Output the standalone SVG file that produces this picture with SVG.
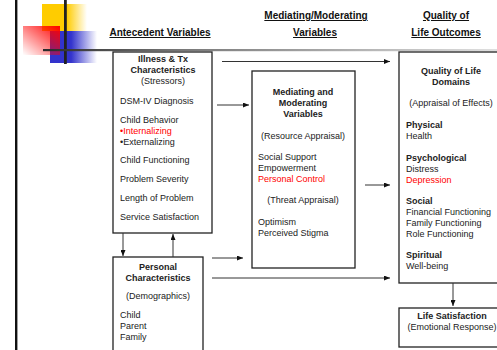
<svg xmlns="http://www.w3.org/2000/svg" width="497" height="350" viewBox="0 0 497 350">
<defs>
<linearGradient id="gy" x1="0" y1="0" x2="1" y2="0"><stop offset="0" stop-color="#FFCC00"/><stop offset="0.55" stop-color="#FFCC00"/><stop offset="1" stop-color="#FFCC00" stop-opacity="0"/></linearGradient>
<linearGradient id="gb" x1="0" y1="0" x2="1" y2="0"><stop offset="0" stop-color="#3333CC"/><stop offset="0.45" stop-color="#3333CC"/><stop offset="1" stop-color="#3333CC" stop-opacity="0"/></linearGradient>
<linearGradient id="gr" x1="1" y1="0" x2="0" y2="1"><stop offset="0" stop-color="#FF0000"/><stop offset="1" stop-color="#FF0000" stop-opacity="0"/></linearGradient>
<linearGradient id="gl" x1="0" y1="0" x2="1" y2="0"><stop offset="0" stop-color="#2a2a2a"/><stop offset="0.3" stop-color="#777"/><stop offset="1" stop-color="#e0e0e0"/></linearGradient>
<marker id="ah" markerUnits="userSpaceOnUse" markerWidth="6" markerHeight="5" refX="6" refY="2.5" orient="auto"><path d="M0,0 L6,2.5 L0,5 Z" fill="#111"/></marker>
</defs>
<style>
text{font-family:"Liberation Sans",Arial,sans-serif;font-size:9px;fill:#222}
.h{font-size:10px;font-weight:bold;fill:#111;text-decoration:underline;text-anchor:middle}
.b{font-weight:bold}
.c{text-anchor:middle}
.r{fill:#FF0000}
.box{fill:#fff;stroke:#222;stroke-width:1.3}
.cn line{stroke:#333;stroke-width:1;marker-end:url(#ah)}
</style>
<rect width="497" height="350" fill="#fff"/>
<g id="decoration">
<rect x="15" y="0" width="2.4" height="350" fill="#111"/>
<rect x="42" y="4" width="45" height="27" fill="url(#gy)"/>
<rect x="50" y="31" width="47" height="32" fill="url(#gb)"/>
<rect x="23" y="26" width="37" height="29" fill="url(#gr)"/>
<rect x="64" y="0" width="2.8" height="64" fill="#222"/>
<rect x="43" y="49" width="454" height="2.2" fill="url(#gl)"/>
</g>
<g id="headers">
<text class="h" x="160" y="36">Antecedent Variables</text>
<text class="h" x="316" y="19">Mediating/Moderating</text>
<text class="h" x="315" y="36">Variables</text>
<text class="h" x="446" y="19">Quality of</text>
<text class="h" x="446" y="36">Life Outcomes</text>
</g>
<g id="illness">
<rect class="box" x="113" y="52" width="99" height="181"/>
<text class="b c" x="163" y="62">Illness &amp; Tx</text>
<text class="b c" x="163" y="73">Characteristics</text>
<text class="c" x="163" y="84">(Stressors)</text>
<text x="120" y="104">DSM-IV Diagnosis</text>
<text x="120" y="123">Child Behavior</text>
<text class="r" x="120" y="134">•Internalizing</text>
<text x="120" y="145">•Externalizing</text>
<text x="120" y="163">Child Functioning</text>
<text x="120" y="182">Problem Severity</text>
<text x="120" y="201">Length of Problem</text>
<text x="120" y="220">Service Satisfaction</text>
</g>
<g id="personal">
<rect class="box" x="113" y="257" width="90" height="100"/>
<text class="b c" x="158" y="270">Personal</text>
<text class="b c" x="158" y="281">Characteristics</text>
<text class="c" x="158" y="299">(Demographics)</text>
<text x="120" y="318">Child</text>
<text x="120" y="329">Parent</text>
<text x="120" y="340">Family</text>
</g>
<g id="mediating">
<rect class="box" x="252" y="71" width="103" height="197"/>
<text class="b c" x="303" y="95">Mediating and</text>
<text class="b c" x="303" y="106">Moderating</text>
<text class="b c" x="303" y="117">Variables</text>
<text class="c" x="303" y="139">(Resource Appraisal)</text>
<text x="258" y="160">Social Support</text>
<text x="258" y="171">Empowerment</text>
<text class="r" x="258" y="182">Personal Control</text>
<text class="c" x="303" y="203">(Threat Appraisal)</text>
<text x="258" y="225">Optimism</text>
<text x="258" y="236">Perceived Stigma</text>
</g>
<g id="qol">
<rect class="box" x="399" y="52" width="105" height="231"/>
<text class="b c" x="451" y="74">Quality of Life</text>
<text class="b c" x="451" y="85">Domains</text>
<text class="c" x="451" y="106">(Appraisal of Effects)</text>
<text class="b" x="406" y="128">Physical</text>
<text x="406" y="139">Health</text>
<text class="b" x="406" y="161">Psychological</text>
<text x="406" y="172">Distress</text>
<text class="r" x="406" y="183">Depression</text>
<text class="b" x="406" y="204">Social</text>
<text x="406" y="215">Financial Functioning</text>
<text x="406" y="226">Family Functioning</text>
<text x="406" y="237">Role Functioning</text>
<text class="b" x="406" y="258">Spiritual</text>
<text x="406" y="269">Well-being</text>
</g>
<g id="lifesat">
<rect class="box" x="399" y="308" width="105" height="39"/>
<text class="b c" x="452" y="319">Life Satisfaction</text>
<text class="c" x="452" y="330">(Emotional Response)</text>
</g>
<g id="connectors" class="cn">
<line x1="222" y1="61.5" x2="390" y2="61.5"/>
<line x1="217" y1="105" x2="249" y2="105"/>
<line x1="365" y1="185" x2="390" y2="185"/>
<line x1="212" y1="258" x2="243" y2="258"/>
<line x1="212" y1="278" x2="390" y2="278"/>
<line x1="123" y1="233" x2="123" y2="256"/>
<line x1="173" y1="257" x2="173" y2="234"/>
<line x1="453" y1="283" x2="453" y2="306"/>
</g>
</svg>
